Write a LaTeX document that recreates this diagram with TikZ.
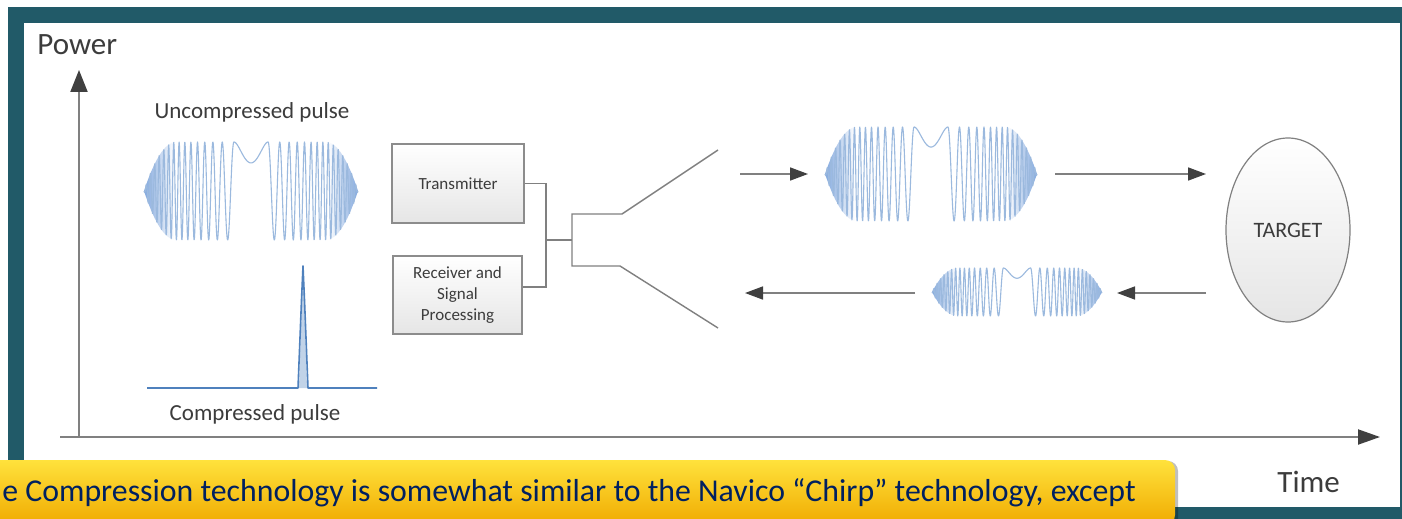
\documentclass[tikz,border=0pt]{standalone}
\usepackage{fontspec}
\setmainfont{Carlito}
\usetikzlibrary{arrows.meta,shapes.geometric}
\definecolor{frameteal}{RGB}{33,90,104}
\definecolor{axisgray}{RGB}{128,128,128}
\definecolor{tipgray}{RGB}{64,64,64}
\definecolor{txtgray}{RGB}{60,60,60}
\definecolor{boxborder}{RGB}{140,140,140}
\definecolor{chline}{RGB}{155,185,222}
\definecolor{chfill}{RGB}{130,168,222}
\definecolor{pulseblue}{RGB}{79,129,189}
\definecolor{navytext}{RGB}{0,32,96}
\definecolor{bantop}{RGB}{255,226,60}
\definecolor{banmid}{RGB}{255,195,0}
\definecolor{banbot}{RGB}{240,170,0}
\pgfdeclarehorizontalshading{chirpsh}{100bp}{color(0bp)=(chfill); color(25bp)=(chfill); color(32bp)=(white); color(68bp)=(white); color(75bp)=(chfill); color(100bp)=(chfill)}
\pgfmathdeclarefunction{chenv}{1}{\pgfmathparse{1-(max(abs(#1)-0.7,0)/0.3)*(max(abs(#1)-0.7,0)/0.3)}}
\pgfmathdeclarefunction{chph}{1}{\pgfmathparse{abs(#1)<0.16 ? 2148*#1*#1-55 : 2880*(abs(#1)-0.16)+3996*(abs(#1)-0.16)*(abs(#1)-0.16)}}
\newcommand{\chirpwave}[5]{%
  \shade[shading=chirpsh] plot[domain=-1:1,samples=61] ({#1+#3*\x},{#2-#4*chenv(\x)}) -- plot[domain=1:-1,samples=61] ({#1+#3*\x},{#2+#4*chenv(\x)}) -- cycle;
  \draw[chline, line width=0.55pt, line join=round] plot[domain=-1:1,samples=#5] ({#1+#3*\x},{#2-#4*chenv(\x)*cos(chph(\x))});
}
\begin{document}
\begin{tikzpicture}[x=0.5pt,y=-0.5pt,
  axisline/.style={draw=axisgray, line width=1pt},
  rarrow/.style={draw=axisgray, line width=0.8pt, -{Triangle[length=9pt,width=6.5pt,color=tipgray]}},
  conn/.style={draw=axisgray, line width=0.7pt},
  lbl/.style={text=txtgray, inner sep=0pt},
  box/.style={draw=boxborder, line width=0.6pt, top color=white, bottom color=black!10, text=txtgray, inner sep=0pt, align=center, font=\fontsize{8.5}{10.5}\selectfont}]
\useasboundingbox (0,0) rectangle (1402,519);
\clip (0,0) rectangle (1402,519);
\fill[white] (0,0) rectangle (1402,519);
\fill[frameteal] (8,7) rectangle (1402,519);
\fill[white] (24,23) rectangle (1400,507);
% axes
\coordinate (O) at (79,437);
\coordinate (ytip) at (79,70);
\coordinate (xs) at (60,437);
\coordinate (xtip) at (1380,437);
\draw[axisline, -{Triangle[length=11pt,width=8.5pt,color=tipgray]}] (O) -- (ytip);
\draw[axisline, -{Triangle[length=11pt,width=7.5pt,color=tipgray]}] (xs) -- (xtip);
\node[lbl, anchor=base west, font=\fontsize{15.5}{18}\selectfont] (power) at (37,55) {Power};
\node[lbl, anchor=base west, font=\fontsize{15.5}{18}\selectfont] (time) at (1277,492) {Time};
% left pulses
\chirpwave{251}{191}{107}{49}{801}
\node[lbl, anchor=base, font=\fontsize{11.5}{14}\selectfont] (ulab) at (252,119) {Uncompressed pulse};
\fill[pulseblue!35] (299,388) -- (302,300) -- (303,266) -- (304,300) -- (307,388) -- cycle;
\draw[pulseblue, line width=0.8pt, line join=round] (147,388) -- (298,388) -- (301.5,300) -- (303,266) -- (304.5,300) -- (308,388) -- (377,388);
\node[lbl, anchor=base, font=\fontsize{11.5}{14}\selectfont] (clab) at (255,420) {Compressed pulse};
% boxes
\node[box, minimum width=66pt, minimum height=39.5pt] (tx) at (458,183.5) {Transmitter};
\node[box, minimum width=64.5pt, minimum height=39pt] (rx) at (457.5,295) {Receiver and\\Signal\\Processing};
\coordinate (j1) at (546,240);
\coordinate (j2) at (572,240);
\draw[conn] (tx.east) -| (j1) |- ([yshift=4pt]rx.east);
\draw[conn] (j1) -- (j2);
\coordinate (a1) at (572,214);
\coordinate (a2) at (622,214);
\coordinate (a3) at (718,150);
\coordinate (b1) at (572,266);
\coordinate (b2) at (620,266);
\coordinate (b3) at (718,328);
\draw[conn] (a3) -- (a2) -- (a1) -- (b1) -- (b2) -- (b3);
% right side
\chirpwave{931}{174}{106}{47}{801}
\chirpwave{1017}{292}{85}{24}{801}
\node[ellipse, draw=axisgray, line width=0.6pt, minimum width=62pt, minimum height=92pt, top color=white, bottom color=black!10, inner sep=0pt, text=txtgray, font=\fontsize{11}{13}\selectfont] (target) at (1288,230) {TARGET};
\coordinate (p1s) at (740,174);
\coordinate (p1e) at (808,174);
\coordinate (p2s) at (1055,174);
\coordinate (p2e) at (1206,174);
\coordinate (p3s) at (1206,293);
\coordinate (p3e) at (1117,293);
\coordinate (p4s) at (915,293);
\coordinate (p4e) at (745,293);
\draw[rarrow] (p1s) -- (p1e);
\draw[rarrow] (p2s) -- (p2e);
\draw[rarrow] (p3s) -- (p3e);
\draw[rarrow] (p4s) -- (p4e);
% banner
\fill[black, opacity=0.25, rounded corners=5pt] (-10,461) rectangle (1178,530);
\shade[top color=bantop, middle color=banmid, bottom color=banbot, rounded corners=5pt] (-10,460) rectangle (1175,525);
\node[anchor=base west, inner sep=0pt, text=navytext, font=\fontsize{15.9}{18}\selectfont] (note) at (2,501) {e Compression technology is somewhat similar to the Navico “Chirp” technology, except};
\end{tikzpicture}
\end{document}
